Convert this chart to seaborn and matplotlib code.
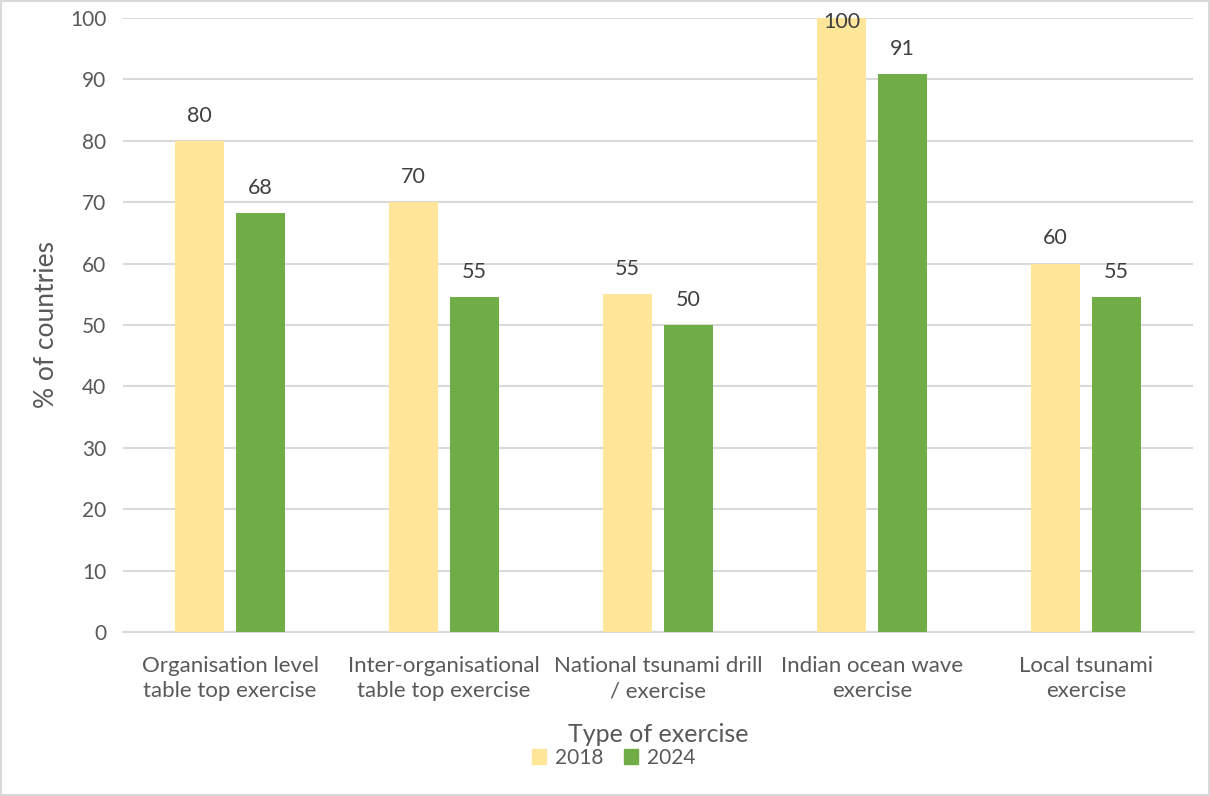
import pandas as pd
import matplotlib
matplotlib.use("Agg")
import matplotlib.pyplot as plt
import matplotlib.patches as mpatches
import seaborn as sns

categories = [
    "Organisation level\ntable top exercise",
    "Inter-organisational\ntable top exercise",
    "National tsunami drill\n/ exercise",
    "Indian ocean wave\nexercise",
    "Local tsunami\nexercise",
]
years = ["2018", "2024"]
values_2018 = [80, 70, 55, 100, 60]
values_2024 = [68.18, 54.55, 50, 90.91, 54.55]

df = pd.DataFrame({
    "category": categories * 2,
    "year": [years[0]] * len(categories) + [years[1]] * len(categories),
    "pct": values_2018 + values_2024,
})

sns.set_theme(style="white")
plt.rcParams["font.family"] = ["Lato", "DejaVu Sans"]
text_col = "#595959"
grid_col = "#D9D9D9"
palette = {"2018": "#FFE699", "2024": "#70AD47"}

fig = plt.figure(figsize=(12.1, 7.96), dpi=100)
ax = fig.add_axes([123 / 1210, 1 - 632 / 796, 1070 / 1210, 614 / 796])

sns.barplot(data=df, x="category", y="pct", hue="year", palette=palette,
            width=0.57, gap=0.21, ax=ax, saturation=1, linewidth=0, zorder=3)

# data labels (rounded); the 100 label sits over the top of its bar
for cont in ax.containers:
    anns = ax.bar_label(cont, labels=[f"{v:.0f}" for v in cont.datavalues],
                        padding=11, fontsize=15.5, color="#404040")
    for ann, v in zip(anns, cont.datavalues):
        if v >= 99:
            ann.xyann = (0, -10)

ax.set_ylim(0, 100)
ax.set_yticks(range(0, 101, 10))
ax.set_xlim(-0.5, len(categories) - 0.5)
ax.yaxis.grid(True, color=grid_col, linewidth=1.5, zorder=0)
ax.set_axisbelow(True)
for side in ["top", "left", "right"]:
    ax.spines[side].set_visible(False)
ax.spines["bottom"].set_color(grid_col)
ax.spines["bottom"].set_linewidth(1.5)
ax.tick_params(axis="y", length=0, labelsize=15, colors=text_col, pad=12)
ax.tick_params(axis="x", length=0, labelsize=16, colors=text_col, pad=17)
for lab in ax.get_xticklabels():
    lab.set_linespacing(1.35)

ax.set_ylabel("% of countries", fontsize=19, color=text_col, labelpad=8)
ax.set_xlabel("Type of exercise", fontsize=18, color=text_col, labelpad=16)

ax.legend_.remove()
handles = [mpatches.Patch(color=palette[y], label=y) for y in years]
fig.legend(handles=handles, loc="center", bbox_to_anchor=(0.507, 1 - 758 / 796),
           ncol=2, frameon=False, fontsize=15, labelcolor=text_col,
           handlelength=0.7, handleheight=0.7, handletextpad=0.4, columnspacing=1.0)

# chart border
fig.patches.append(mpatches.Rectangle((0.001, 0.001), 0.998, 0.998, transform=fig.transFigure,
                                      fill=False, edgecolor=grid_col, linewidth=1.5))

fig.savefig("out.png", dpi=100)
